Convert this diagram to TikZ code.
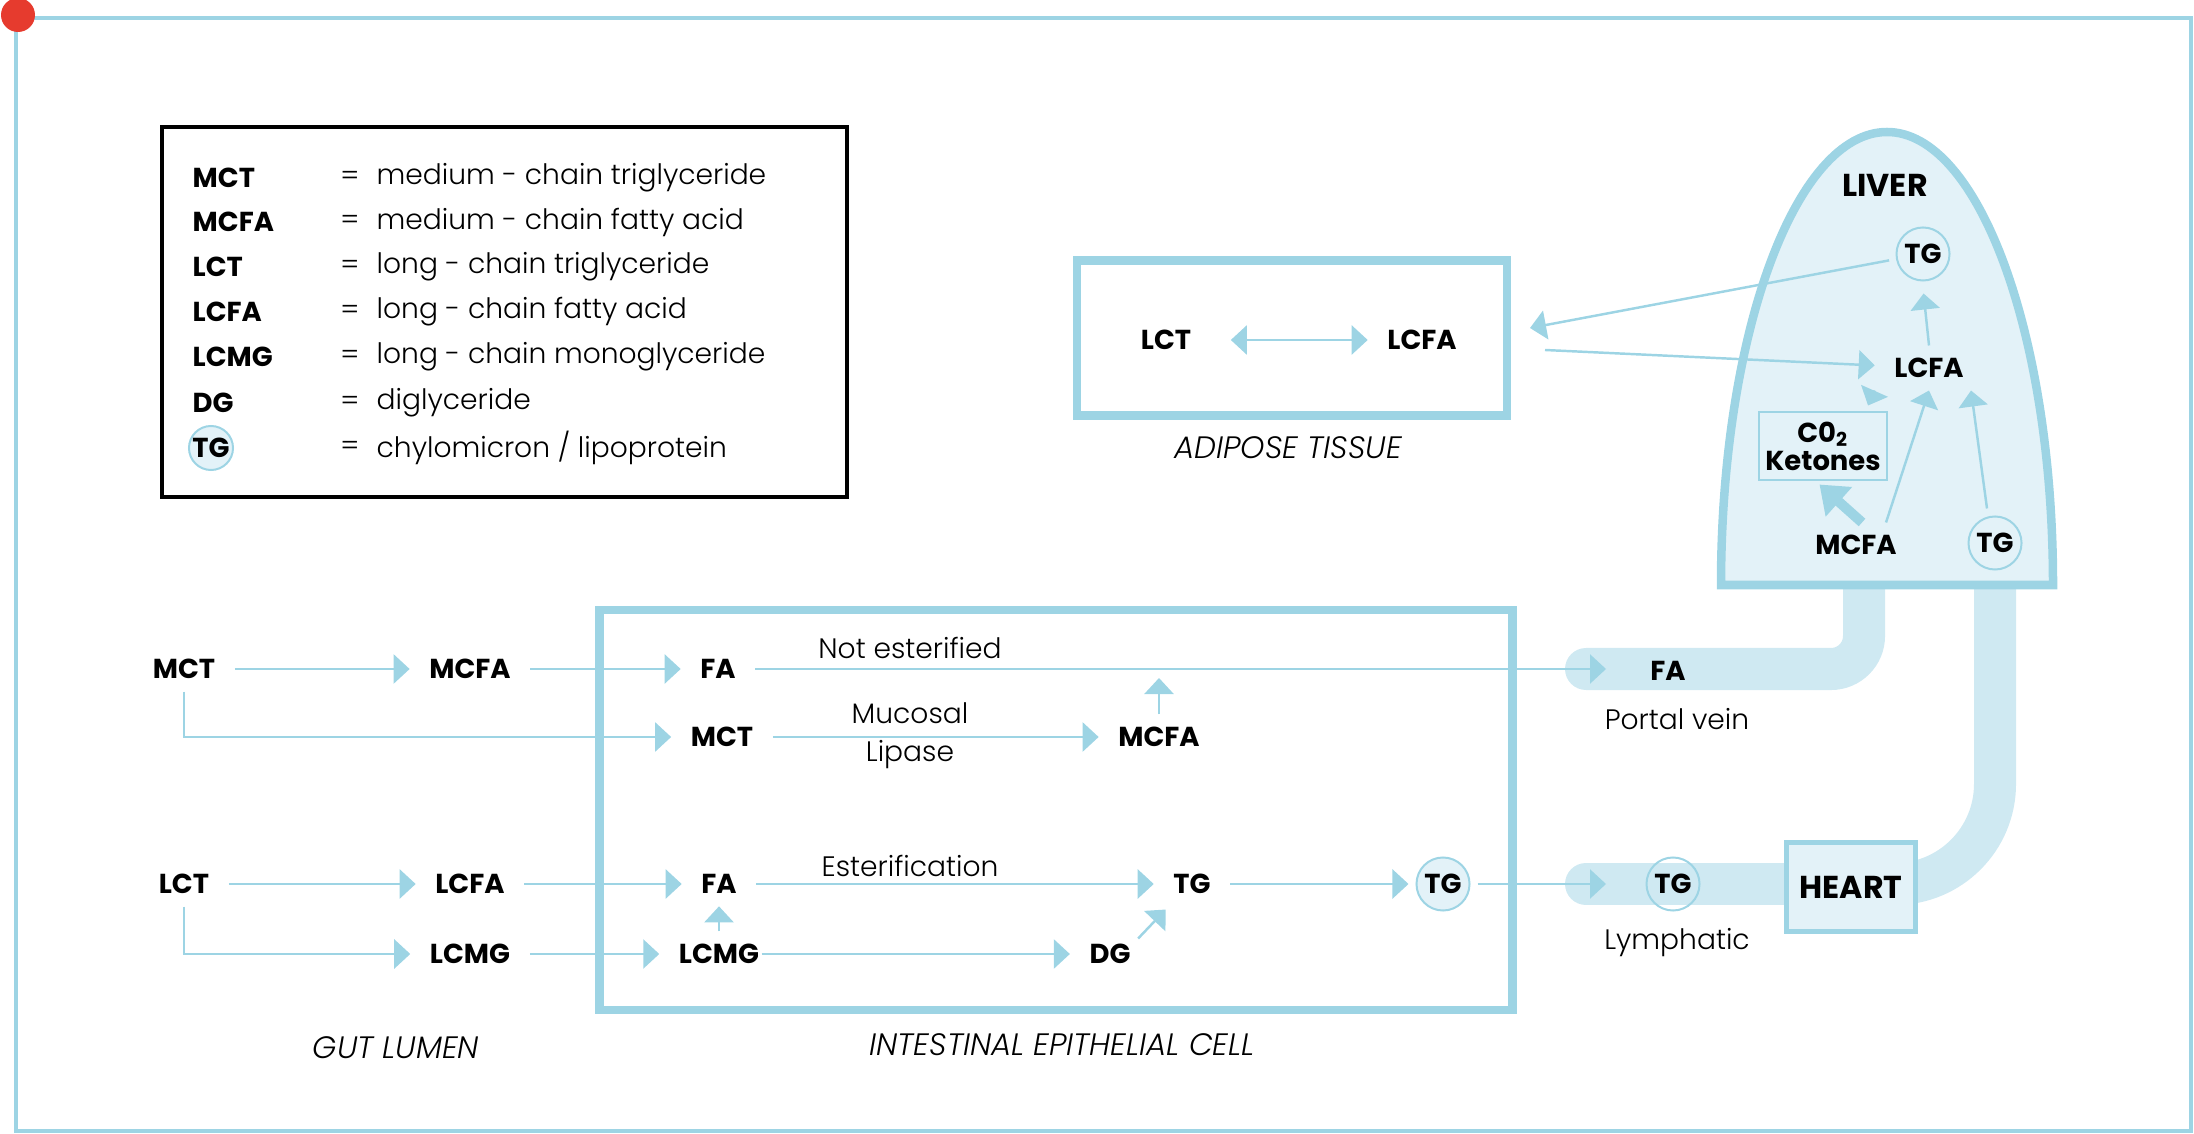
\documentclass[tikz,border=0pt]{standalone}
\usepackage{fontspec}
\setmainfont{Poppins}[UprightFont=* Light, ItalicFont=* Light Italic, BoldFont=* Bold]
\usepackage{xcolor}
\usepackage{tikz}
\usetikzlibrary{arrows.meta, positioning, calc}
\definecolor{sky}{HTML}{9DD4E4}
\definecolor{pipec}{HTML}{CFE9F2}
\definecolor{pale}{HTML}{E3F2F8}
\definecolor{dotred}{HTML}{E63B2E}

\begin{document}
\begin{tikzpicture}[x=0.01cm, y=-0.01cm,
    every node/.style={font=\fontsize{8}{9}\selectfont},
    lbl/.style={font=\fontsize{7.8}{9}\selectfont\bfseries, inner xsep=0.19cm, inner ysep=0.12cm},
    big/.style={font=\fontsize{9}{10}\selectfont\bfseries},
    area/.style={font=\fontsize{8.8}{10}\selectfont\itshape},
    arr/.style={draw=sky, line width=0.7pt, -{Triangle[length=1.6mm, width=2.9mm]}},
    bigarr/.style={draw=sky, line width=0.1cm, -{Triangle[length=2.6mm, width=3.8mm]}},
    tgc/.style={circle, draw=sky, line width=0.02cm, minimum size=0.53cm, inner sep=0pt, outer sep=0.08cm, font=\fontsize{7.8}{9}\selectfont\bfseries},
    wall/.style={draw=sky, line width=0.085cm},
    pipe/.style={draw=pipec, line width=0.42cm},
    heartbox/.style={draw=sky, line width=0.05cm, fill=pale, minimum width=1.28cm, minimum height=0.88cm, big}
]
    \useasboundingbox (0,0) rectangle (2194,1134);
    \draw[sky, line width=0.045cm] (16,18) rectangle (2191,1131);
    \fill[dotred] (18,15) circle[radius=17];

    % Legend
    \draw[line width=0.04cm] (162,127) rectangle (847,497);
    \foreach \y/\ab/\txt in {178/MCT/medium - chain triglyceride, 222/MCFA/medium - chain fatty acid,
        267/LCT/long - chain triglyceride, 312/LCFA/long - chain fatty acid,
        357/LCMG/long - chain monoglyceride, 403/DG/diglyceride} {
        \node[anchor=west, inner sep=0pt, font=\fontsize{7.8}{9}\selectfont\bfseries] (key\y) at (192,\y) {\ab};
        \node[inner sep=0pt] (eq\y) at (350,\y) {=};
        \node[anchor=west, inner sep=0pt] (def\y) at (376,\y) {\txt};
    }
    \node[tgc, fill=pale, minimum size=0.44cm, outer sep=0pt] (keytg) at (211,448) {TG};
    \node[inner sep=0pt] (eqtg) at (350,448) {=};
    \node[anchor=west, inner sep=0pt] (deftg) at (376,448) {chylomicron / lipoprotein};

    % Blood and lymph vessels
    \draw[pipe, rounded corners=0.33cm] (1586,669) -- (1864,669) -- (1864,583);
    \draw[pipe, line cap=round] (1586,669) -- (1600,669);
    \draw[pipe, line cap=round] (1586,884) -- (1800,884);
    \draw[pipe, rounded corners=1cm] (1880,884) -- (1995,884) -- (1995,583);
    \coordinate (pv) at (1606,669);
    \coordinate (ly) at (1606,884);

    % Liver
    \draw[wall, fill=pale] (1721,585) arc[start angle=180, end angle=360, x radius=166, y radius=453] -- cycle;
    \node[big] (liver) at (1885,185) {LIVER};
    \node[tgc] (ltg) at (1923,254) {TG};
    \node[lbl] (llcfa) at (1929,368) {LCFA};
    \node[draw=sky, line width=0.02cm, minimum width=1.28cm, minimum height=0.67cm, align=center, inner sep=0pt,
        font=\fontsize{7.8}{8}\selectfont\bfseries] (co2) at (1823,446) {C0\textsubscript{2}\\Ketones};
    \node[lbl] (lmcfa) at (1856,545) {MCFA};
    \node[tgc] (ltg2) at (1995,543) {TG};
    \draw[arr, shorten >=0.05cm] (llcfa.north) -- (ltg.south);
    \draw[arr] (llcfa.south west) -- ($(co2.north east)+(-20,-6)$);
    \draw[arr] ([xshift=0.3cm]lmcfa.north) -- (llcfa.south);
    \draw[arr] ([xshift=-0.08cm]ltg2.north) -- ([xshift=0.42cm]llcfa.south);
    \draw[bigarr, shorten >=0.06cm] ([xshift=0.06cm]lmcfa.north) -- ([xshift=-0.08cm]co2.south);

    % Adipose tissue
    \node[wall, minimum width=4.3cm, minimum height=1.55cm] (adipose) at (1292,338) {};
    \node[lbl] (alct) at (1166,340) {LCT};
    \node[lbl] (alcfa) at (1422,340) {LCFA};
    \draw[arr, {Triangle[length=1.6mm, width=2.9mm]}-{Triangle[length=1.6mm, width=2.9mm]}, shorten <=0.2cm] (alct) -- (alcfa);
    \node[area] (adname) at (1288,448) {ADIPOSE TISSUE};
    \coordinate (adin) at (1530,328);
    \coordinate (adout) at (1545,350);
    \draw[arr] (ltg) -- (adin);
    \draw[arr] (adout) -- (llcfa);

    % Gut lumen
    \node[lbl] (mct) at (184,669) {MCT};
    \node[lbl] (mcfa) at (470,669) {MCFA};
    \node[lbl] (lct) at (184,884) {LCT};
    \node[lbl] (lcfa) at (470,884) {LCFA};
    \node[lbl] (lcmg) at (470,954) {LCMG};
    \node[area] (gut) at (396,1048) {GUT LUMEN};

    % Intestinal epithelial cell
    \node[wall, minimum width=9.12cm, minimum height=4cm] (cell) at (1056,810) {};
    \node[lbl] (fa) at (718,669) {FA};
    \node[lbl] (mct2) at (722,737) {MCT};
    \node[lbl] (mcfa2) at (1159,737) {MCFA};
    \node[lbl] (fa2) at (719,884) {FA};
    \node[lbl] (tg) at (1192,884) {TG};
    \node[tgc, fill=pale] (tgc) at (1443,884) {TG};
    \node[lbl] (lcmg2) at (719,954) {LCMG};
    \node[lbl] (dg) at (1110,954) {DG};
    \node (noest) at (910,648) {Not esterified};
    \node (mucosal) at (910,713) {Mucosal};
    \node (lipase) at (910,755) {Lipase};
    \node (ester) at (910,866) {Esterification};
    \node[area] (cellname) at (1062,1045) {INTESTINAL EPITHELIAL CELL};
    \coordinate (up) at (1159,678);

    % Heart and vessels
    \node[lbl] (pfa) at (1668,671) {FA};
    \node (portal) at (1677,719) {Portal vein};
    \node[tgc] (ptg) at (1673,884) {TG};
    \node (lymph) at (1677,943) {Lymphatic};
    \node[heartbox] (heart) at (1851,887) {HEART};

    \draw[arr] (mct) -- (mcfa);
    \draw[arr] (mcfa) -- (fa);
    \draw[arr] (mct.south) |- (mct2);
    \draw[arr] (lct) -- (lcfa);
    \draw[arr] (lcfa) -- (fa2);
    \draw[arr] (lct.south) |- (lcmg);
    \draw[arr] (lcmg) -- (lcmg2);
    \draw[arr] (mct2) -- (mcfa2);
    \draw[arr] (mcfa2.north) -- (up);
    \draw[arr] (fa) -- (pv);
    \draw[arr] (fa2) -- (tg);
    \draw[arr] (lcmg2) -- (fa2);
    \draw[arr] ([xshift=-0.17cm]lcmg2.east) -- (dg);
    \draw[arr] ([xshift=-0.12cm, yshift=-0.07cm]dg.north east) -- ([xshift=0.12cm, yshift=-0.03cm]tg.south west);
    \draw[arr] (tg) -- (tgc);
    \draw[arr] (tgc) -- (ly);
\end{tikzpicture}
\end{document}
